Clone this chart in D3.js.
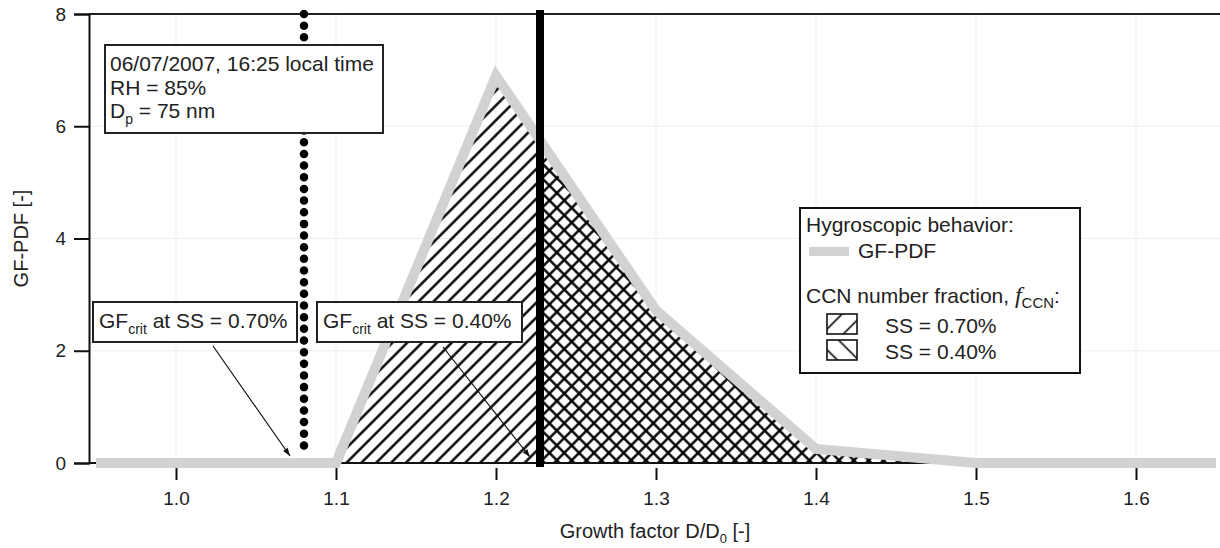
<!DOCTYPE html>
<html>
<head>
<meta charset="utf-8">
<script src="https://cdn.jsdelivr.net/npm/d3@7"></script>
<style>
  body { margin: 0; background: #fff; }
  svg { font-family: "Liberation Sans", Arial, sans-serif; }
</style>
</head>
<body>
<div id="chart"></div>
<script>
// growth factor distribution (GF-PDF)
const gfValues = [0.95, 1.1, 1.2, 1.3, 1.4, 1.5, 1.65];
const pdfValues = [0, 0, 6.9, 2.72, 0.25, 0, 0];

const xTicks = [1.0, 1.1, 1.2, 1.3, 1.4, 1.5, 1.6];
const yTicks = [0, 2, 4, 6, 8];

// critical growth factors for the two supersaturations
const ssLabels = ["0.70%", "0.40%"];
const gfCrit = [1.08, 1.2275];

const infoLines = ["06/07/2007, 16:25 local time", "RH = 85%", "75 nm"];

const W = 1220, H = 548;
const margin = { left: 89, right: 0, top: 14, bottom: 85 };

const svg = d3.select("#chart").append("svg")
    .attr("width", W)
    .attr("height", H);

const x = d3.scaleLinear()
    .domain([0.945625, 1.6525])
    .range([margin.left, W - margin.right]);

const y = d3.scaleLinear()
    .domain([0, 8])
    .range([H - margin.bottom, margin.top]);

const data = gfValues.map((g, i) => ({ gf: g, pdf: pdfValues[i] }));

// hatch patterns
const defs = svg.append("defs");
function hatch(id, angle, size, sw) {
    const p = defs.append("pattern")
        .attr("id", id)
        .attr("patternUnits", "userSpaceOnUse")
        .attr("width", size)
        .attr("height", size)
        .attr("patternTransform", `rotate(${angle})`);
    p.append("line")
        .attr("x1", size / 2).attr("y1", -1)
        .attr("x2", size / 2).attr("y2", size + 1)
        .attr("stroke", "#000")
        .attr("stroke-width", sw);
}
hatch("hatchFwd", 45, 10.5, 2.4);
hatch("hatchBack", -45, 10.5, 2.4);
hatch("legFwd", 45, 15, 1.6);
hatch("legBack", -45, 15, 1.6);

// faint grid
svg.append("g")
    .selectAll("line")
    .data(xTicks)
    .join("line")
    .attr("x1", d => x(d)).attr("x2", d => x(d))
    .attr("y1", y(8)).attr("y2", y(0))
    .attr("stroke", "#efefef")
    .attr("stroke-width", 1);

svg.append("g")
    .selectAll("line")
    .data(yTicks.filter(d => d > 0 && d < 8))
    .join("line")
    .attr("x1", x.range()[0]).attr("x2", x.range()[1])
    .attr("y1", d => y(d)).attr("y2", d => y(d))
    .attr("stroke", "#efefef")
    .attr("stroke-width", 1);

// hatched areas (fCCN)
const area = d3.area()
    .x(d => x(d.gf))
    .y0(y(0))
    .y1(d => y(d.pdf));

ssLabels.forEach((ss, i) => {
    defs.append("clipPath")
        .attr("id", "clip" + i)
        .append("rect")
        .attr("x", x(gfCrit[i]))
        .attr("y", y(8))
        .attr("width", x.range()[1] - x(gfCrit[i]))
        .attr("height", y(0) - y(8));

    svg.append("path")
        .datum(data)
        .attr("clip-path", `url(#clip${i})`)
        .attr("d", area)
        .attr("fill", i === 0 ? "url(#hatchFwd)" : "url(#hatchBack)");
});

// axes
svg.append("line")
    .attr("x1", x.range()[0]).attr("x2", x(1.65))
    .attr("y1", y(0)).attr("y2", y(0))
    .attr("stroke", "#111").attr("stroke-width", 2);

svg.append("line")
    .attr("x1", x.range()[0]).attr("x2", W)
    .attr("y1", y(8)).attr("y2", y(8))
    .attr("stroke", "#222").attr("stroke-width", 2);

const xAxis = svg.append("g")
    .attr("transform", `translate(0, ${y(0) + 5})`)
    .call(d3.axisBottom(x).tickValues(xTicks).tickFormat(d3.format(".1f")).tickSize(12).tickPadding(12));
xAxis.select(".domain").remove();
xAxis.selectAll("line").attr("stroke", "#111").attr("stroke-width", 2);
xAxis.selectAll("text").attr("font-size", "19px").attr("fill", "#222").attr("font-family", "Liberation Sans, Arial, sans-serif");

const yAxis = svg.append("g")
    .attr("transform", `translate(${margin.left}, 0)`)
    .call(d3.axisLeft(y).tickValues(yTicks).tickSize(15).tickPadding(8));
yAxis.select(".domain").attr("stroke", "#111").attr("stroke-width", 2);
yAxis.selectAll("line").attr("stroke", "#111").attr("stroke-width", 2);
yAxis.selectAll("text").attr("font-size", "19px").attr("fill", "#222").attr("font-family", "Liberation Sans, Arial, sans-serif");

// GF-PDF line
svg.append("path")
    .datum(data)
    .attr("d", d3.line().x(d => x(d.gf)).y(d => y(d.pdf)))
    .attr("fill", "none")
    .attr("stroke", "#d2d2d2")
    .attr("stroke-width", 10)
    .attr("stroke-linejoin", "miter");

// GFcrit markers
svg.append("line")
    .attr("x1", x(gfCrit[0])).attr("x2", x(gfCrit[0]))
    .attr("y1", y(8)).attr("y2", y(0) - 6)
    .attr("stroke", "#000")
    .attr("stroke-width", 8.5)
    .attr("stroke-linecap", "round")
    .attr("stroke-dasharray", "0 11.66");

svg.append("line")
    .attr("x1", x(gfCrit[1])).attr("x2", x(gfCrit[1]))
    .attr("y1", y(8) - 4).attr("y2", y(0) + 4)
    .attr("stroke", "#000")
    .attr("stroke-width", 8);

// info box
const info = svg.append("g");
info.append("rect")
    .attr("x", 105).attr("y", 45).attr("width", 278).attr("height", 88)
    .attr("fill", "#fff").attr("stroke", "#222").attr("stroke-width", 2);
const infoText = info.append("text")
    .attr("font-size", "21px").attr("fill", "#222");
infoText.append("tspan").attr("x", 110).attr("y", 71).text(infoLines[0]);
infoText.append("tspan").attr("x", 110).attr("y", 95).text(infoLines[1]);
const dp = info.append("text").attr("x", 110).attr("y", 118)
    .attr("font-size", "21px").attr("fill", "#222");
dp.append("tspan").text("D");
dp.append("tspan").attr("font-size", "14px").attr("dy", 6).text("p");
dp.append("tspan").attr("dy", -6).text(" = " + infoLines[2]);

// GFcrit label boxes + arrows
defs.append("marker")
    .attr("id", "arrow")
    .attr("viewBox", "0 0 10 10")
    .attr("refX", 10).attr("refY", 5)
    .attr("markerWidth", 16).attr("markerHeight", 8)
    .attr("markerUnits", "userSpaceOnUse")
    .attr("orient", "auto")
    .append("path")
    .attr("d", "M0,1.5 L10,5 L0,8.5 Z")
    .attr("fill", "#111");

const critBoxes = [
    { bx: 93, bw: 204, ax1: 213, ay1: 346, ax2: x(gfCrit[0]) - 14, ay2: y(0) - 7 },
    { bx: 317, bw: 205, ax1: 443, ay1: 347, ax2: x(gfCrit[1]) - 10, ay2: y(0) - 6 }
];
critBoxes.forEach((b, i) => {
    svg.append("line")
        .attr("x1", b.ax1).attr("y1", b.ay1)
        .attr("x2", b.ax2).attr("y2", b.ay2)
        .attr("stroke", "#111").attr("stroke-width", 1.2)
        .attr("marker-end", "url(#arrow)");
    svg.append("rect")
        .attr("x", b.bx).attr("y", 302).attr("width", b.bw).attr("height", 40)
        .attr("fill", "#fff").attr("stroke", "#222").attr("stroke-width", 2);
    const t = svg.append("text")
        .attr("x", b.bx + 6).attr("y", 328)
        .attr("font-size", "21px").attr("fill", "#222");
    t.append("tspan").text("GF");
    t.append("tspan").attr("font-size", "14px").attr("dy", 6).text("crit");
    t.append("tspan").attr("dy", -6).text(" at SS = " + ssLabels[i]);
});

// legend
const leg = svg.append("g");
leg.append("rect")
    .attr("x", 800).attr("y", 208).attr("width", 280).attr("height", 165)
    .attr("fill", "#fff").attr("stroke", "#111").attr("stroke-width", 2);
leg.append("text").attr("x", 806).attr("y", 232)
    .attr("font-size", "21px").attr("fill", "#222").text("Hygroscopic behavior:");
leg.append("rect")
    .attr("x", 809).attr("y", 247).attr("width", 40).attr("height", 9)
    .attr("fill", "#d2d2d2");
leg.append("text").attr("x", 858).attr("y", 258)
    .attr("font-size", "21px").attr("fill", "#222").text("GF-PDF");
const ccn = leg.append("text").attr("x", 806).attr("y", 303)
    .attr("font-size", "21px").attr("fill", "#222");
ccn.append("tspan").text("CCN number fraction, ");
ccn.append("tspan").attr("font-family", "Liberation Serif, serif")
    .attr("font-style", "italic").attr("font-size", "24px").text("f");
ccn.append("tspan").attr("font-size", "15px").attr("dy", 5).text("CCN");
ccn.append("tspan").attr("dy", -5).text(":");

ssLabels.forEach((ss, i) => {
    const yy = 314 + i * 26;
    leg.append("rect")
        .attr("x", 827).attr("y", yy).attr("width", 30).attr("height", 20)
        .attr("fill", i === 0 ? "url(#legFwd)" : "url(#legBack)")
        .attr("stroke", "#111").attr("stroke-width", 1.6);
    leg.append("text").attr("x", 885).attr("y", yy + 19)
        .attr("font-size", "21px").attr("fill", "#222").text("SS = " + ss);
});

// axis titles
svg.append("text")
    .attr("transform", "rotate(-90)")
    .attr("x", -(y(0) + y(8)) / 2)
    .attr("y", 28)
    .attr("text-anchor", "middle")
    .attr("font-size", "20px").attr("fill", "#222")
    .text("GF-PDF [-]");

const xt = svg.append("text")
    .attr("x", 655).attr("y", 538)
    .attr("text-anchor", "middle")
    .attr("font-size", "20px").attr("fill", "#222");
xt.append("tspan").text("Growth factor D/D");
xt.append("tspan").attr("font-size", "13px").attr("dy", 5).text("0");
xt.append("tspan").attr("dy", -5).text(" [-]");
</script>
</body>
</html>
